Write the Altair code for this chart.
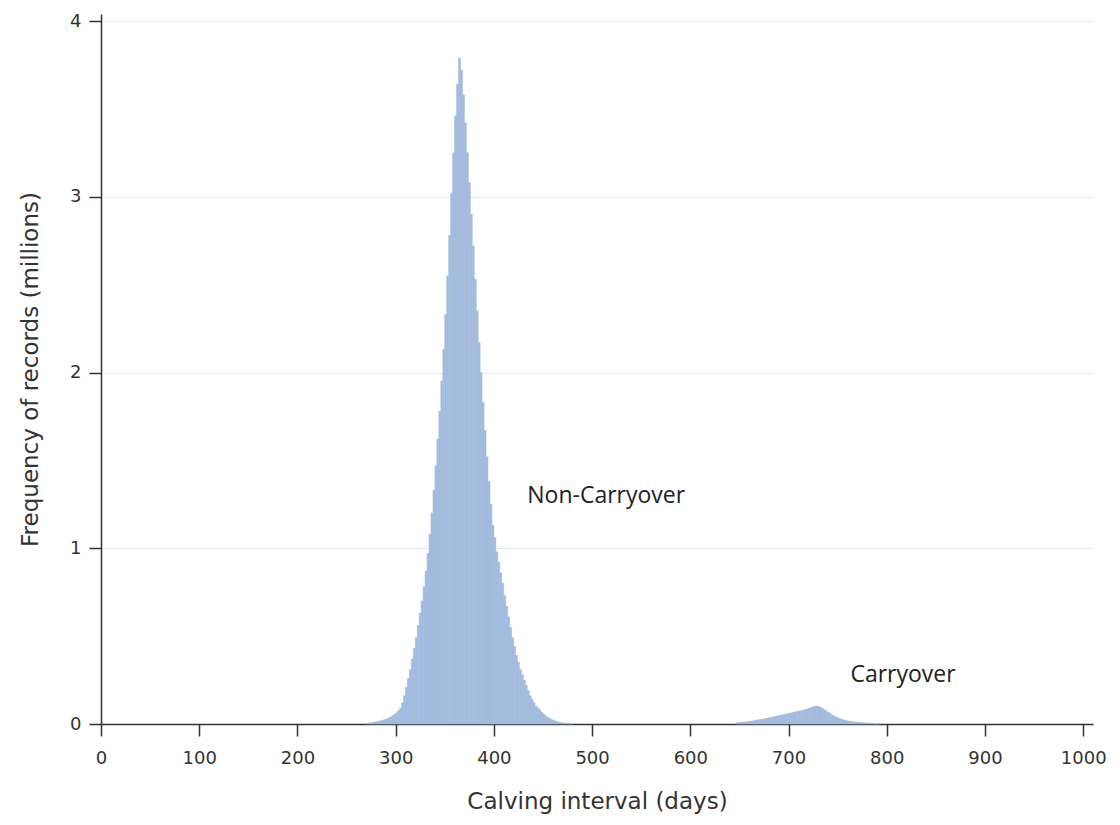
import altair as alt
import pandas as pd

# Histogram of calving intervals, 2-day bins, counts in millions of records.
BIN_WIDTH = 2

# Main (non-carryover) lactations: bins start at 270 days
main_start = 270
main_freq = [
    0.003, 0.005, 0.007, 0.009, 0.011, 0.013, 0.015, 0.018, 0.021, 0.025,
    0.029, 0.034, 0.040, 0.047, 0.055, 0.064, 0.075, 0.090, 0.120, 0.160,
    0.210, 0.260, 0.310, 0.370, 0.430, 0.490, 0.560, 0.630, 0.700, 0.780,
    0.870, 0.970, 1.080, 1.200, 1.330, 1.470, 1.620, 1.780, 1.950, 2.130,
    2.330, 2.550, 2.780, 3.020, 3.250, 3.460, 3.640, 3.790, 3.720, 3.580,
    3.420, 3.250, 3.080, 2.900, 2.720, 2.530, 2.350, 2.170, 2.000, 1.830,
    1.670, 1.520, 1.380, 1.250, 1.130, 1.060, 0.980, 0.920, 0.860, 0.800,
    0.730, 0.670, 0.610, 0.550, 0.490, 0.440, 0.390, 0.350, 0.310, 0.280,
    0.250, 0.220, 0.190, 0.160, 0.140, 0.120, 0.100, 0.090, 0.080, 0.065,
    0.055, 0.045, 0.038, 0.031, 0.025, 0.020, 0.016, 0.012, 0.009, 0.007,
    0.005, 0.004, 0.003, 0.002, 0.001,
]

# Carryover lactations: bins start at 646 days
carry_start = 646
carry_freq = [
    0.006, 0.008, 0.009, 0.010, 0.011, 0.012, 0.013, 0.015, 0.017, 0.019,
    0.021, 0.023, 0.025, 0.027, 0.029, 0.031, 0.033, 0.036, 0.038, 0.041,
    0.043, 0.046, 0.048, 0.051, 0.053, 0.056, 0.058, 0.061, 0.063, 0.066,
    0.068, 0.071, 0.073, 0.076, 0.079, 0.082, 0.085, 0.089, 0.093, 0.097,
    0.100, 0.102, 0.099, 0.094, 0.087, 0.079, 0.071, 0.064, 0.057, 0.050,
    0.044, 0.038, 0.033, 0.029, 0.025, 0.022, 0.019, 0.017, 0.015, 0.013,
    0.012, 0.011, 0.010, 0.009, 0.008, 0.007, 0.006, 0.005, 0.004, 0.004,
    0.003, 0.002, 0.001,
]

x_ticks = [0, 100, 200, 300, 400, 500, 600, 700, 800, 900, 1000]
y_ticks = [0, 1, 2, 3, 4]

labels = ["Non-Carryover", "Carryover"]
label_x = [434, 763]
label_y = [1.30, 0.28]

BAR_COLOR = "#a2bbde"


def bins(start, freq):
    return [
        {"lo": start + i * BIN_WIDTH, "hi": start + (i + 1) * BIN_WIDTH, "freq": f}
        for i, f in enumerate(freq)
    ]


hist = pd.DataFrame(bins(main_start, main_freq) + bins(carry_start, carry_freq))
notes = pd.DataFrame({"label": labels, "x": label_x, "y": label_y})

x_scale = alt.Scale(domain=[0, 1010], nice=False, zero=False)
y_scale = alt.Scale(domain=[0, 4.04], nice=False)

# a thin stroke in the fill colour closes the anti-aliasing seams between bins
bars = alt.Chart(hist).mark_rect(
    color=BAR_COLOR, stroke=BAR_COLOR, strokeWidth=0.6
).encode(
    x=alt.X(
        "lo:Q",
        scale=x_scale,
        title="Calving interval (days)",
        axis=alt.Axis(values=x_ticks, grid=False, format="d", labelFlush=False),
    ),
    x2="hi:Q",
    y=alt.Y(
        "freq:Q",
        scale=y_scale,
        title="Frequency of records (millions)",
        axis=alt.Axis(values=y_ticks, grid=True, format="d", labelFlush=False),
    ),
    y2=alt.datum(0),
)

text = alt.Chart(notes).mark_text(
    align="left",
    baseline="middle",
    font="Open Sans",
    fontSize=23,
    color="#222222",
).encode(
    x=alt.X("x:Q", scale=x_scale),
    y=alt.Y("y:Q", scale=y_scale),
    text="label:N",
)

chart = (
    alt.layer(bars, text)
    .properties(
        width=992,
        height=710,
        padding={"left": 101, "top": 14, "right": 27, "bottom": 101},
        autosize=alt.AutoSizeParams(type="none"),
        background="white",
    )
    .configure_view(stroke=None)
    .configure_axis(
        domainColor="#333333",
        domainWidth=1.5,
        tickColor="#333333",
        tickWidth=1.5,
        tickSize=12,
        labelFont="DejaVu Sans",
        labelFontSize=18,
        labelColor="#333333",
        titleFont="DejaVu Sans",
        titleFontSize=23,
        titleFontWeight="normal",
        titleColor="#333333",
        gridColor="#e8e8e8",
        gridWidth=1,
    )
    .configure_axisX(titlePadding=23, labelPadding=13)
    .configure_axisY(titlePadding=27, labelPadding=8)
)

chart.save("out.html", embed_options={"renderer": "svg", "actions": False})
